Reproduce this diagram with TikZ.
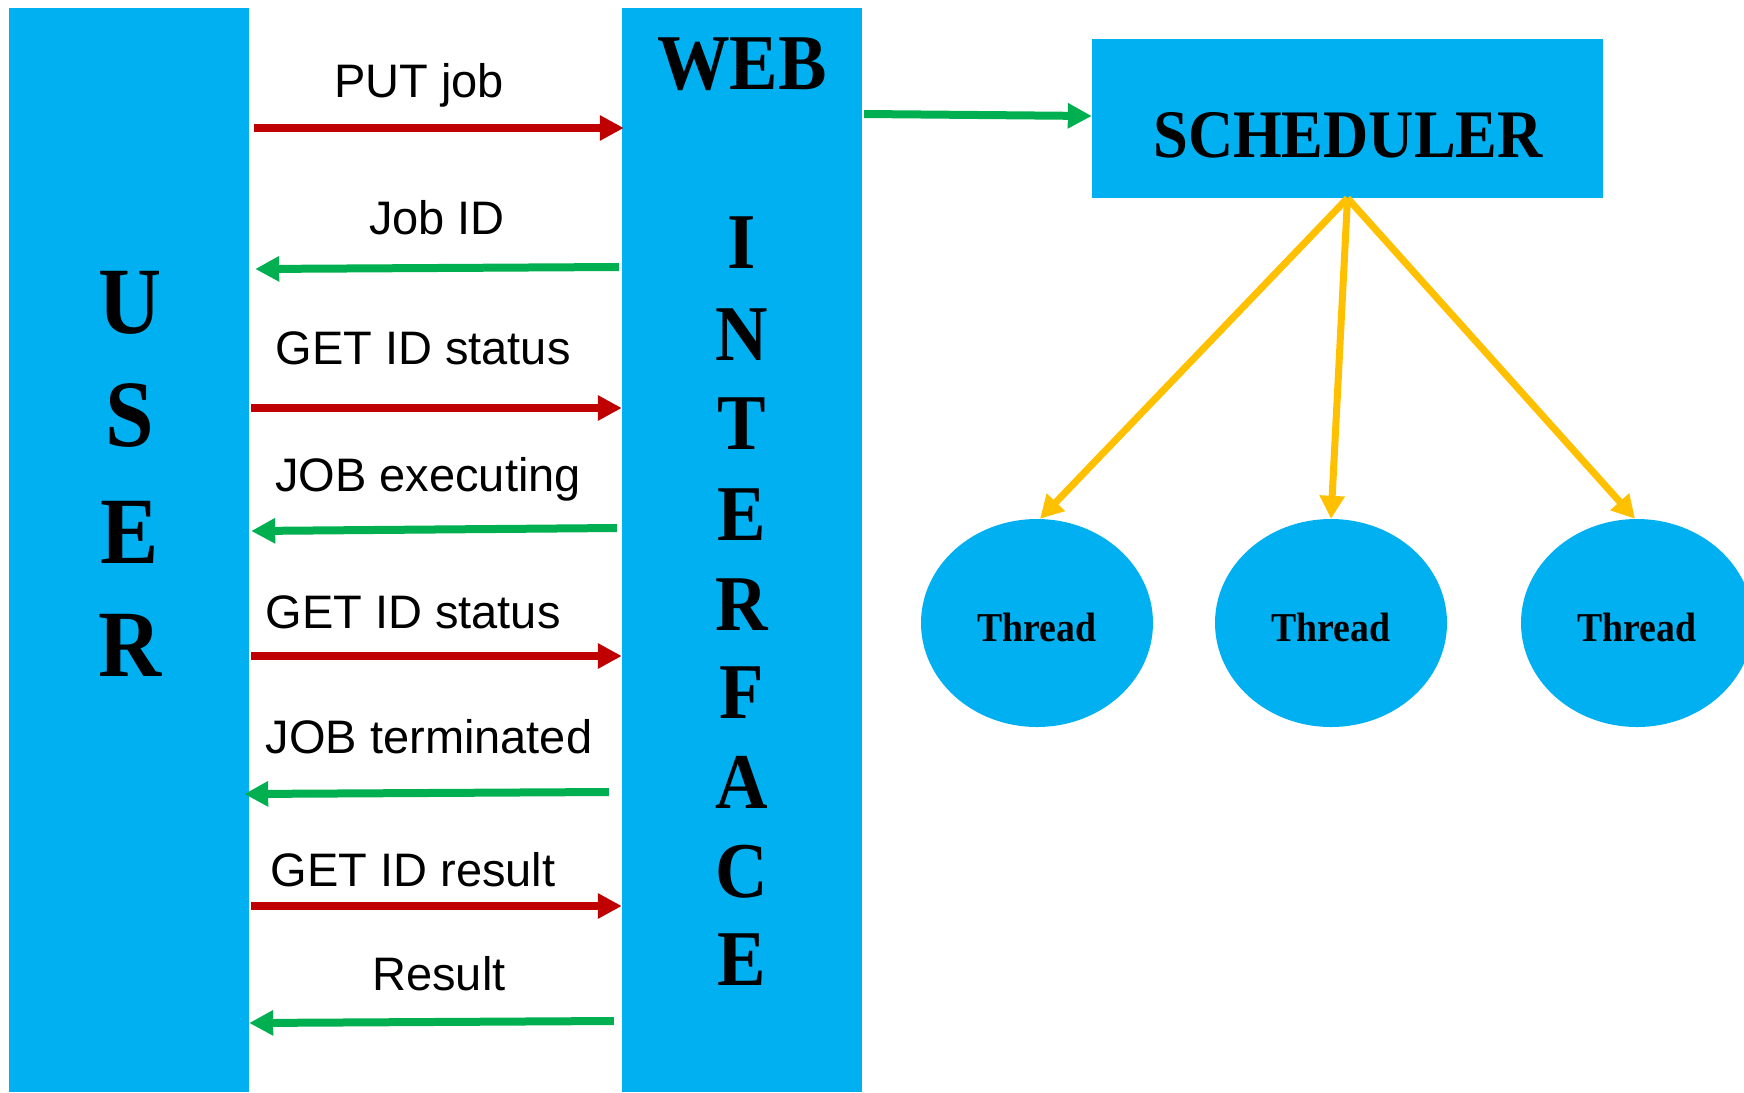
\documentclass[tikz,border=0pt]{standalone}
\usepackage{fontspec}
\setmainfont{Liberation Serif}
\newfontfamily\sansf{Liberation Sans}
\newfontfamily\headf[FakeStretch=0.92]{Liberation Serif}
\usetikzlibrary{arrows.meta,shapes.geometric}
\definecolor{boxblue}{HTML}{00B0F0}
\definecolor{reqred}{HTML}{C00000}
\definecolor{respgreen}{HTML}{00B050}
\definecolor{thryellow}{HTML}{FFC000}
\begin{document}
\begin{tikzpicture}[x=1pt,y=-1pt,
  panel/.style={fill=boxblue, draw=none, rectangle, inner sep=0pt},
  userletter/.style={font=\headf\bfseries\fontsize{95}{95}\selectfont, inner sep=0pt, text height=63pt, text depth=0pt},
  webletter/.style={font=\headf\bfseries\fontsize{79}{79}\selectfont, inner sep=0pt, text height=52pt, text depth=0pt},
  msg/.style={font=\sansf\fontsize{47}{47}\selectfont, inner sep=0pt, text height=34pt, text depth=0pt},
  thread/.style={ellipse, fill=boxblue, draw=none, minimum width=232pt, minimum height=208pt, inner sep=0pt},
  threadtext/.style={font=\headf\bfseries\fontsize{41}{41}\selectfont, inner sep=0pt, text height=28pt, text depth=0pt},
  req/.style={draw=reqred, line width=8pt, -{Triangle[length=24pt,width=24pt]}},
  resp/.style={draw=respgreen, line width=8pt, -{Triangle[length=24pt,width=24pt]}},
  spawn/.style={draw=thryellow, line width=7pt, -{Triangle[length=23pt,width=24pt]}}
]
\useasboundingbox (0,0) rectangle (1744,1092);
\clip (0,0) rectangle (1744,1092);

% panels
\node[panel, minimum width=240pt, minimum height=1084pt] (user) at (129,550) {};
\node[panel, minimum width=240pt, minimum height=1084pt] (web) at (742,550) {};
\node[panel, minimum width=511pt, minimum height=159pt] (sched) at (1347.5,118.5) {};

% USER letters
\node[userletter] (u1) at (130,302) {U};
\node[userletter] (u2) at (130,415) {S};
\node[userletter] (u3) at (130,532) {E};
\node[userletter] (u4) at (130,645) {R};

% WEB INTERFACE letters
\node[webletter] (w0) at (742,63) {WEB};
\node[webletter] (w1) at (742,242) {I};
\node[webletter] (w2) at (742,334) {N};
\node[webletter] (w3) at (742,423) {T};
\node[webletter] (w4) at (742,514) {E};
\node[webletter] (w5) at (742,604) {R};
\node[webletter] (w6) at (742,692) {F};
\node[webletter] (w7) at (742,782) {A};
\node[webletter] (w8) at (742,871) {C};
\node[webletter] (w9) at (742,959) {E};

% scheduler text
\node[font=\headf\bfseries\fontsize{68}{68}\selectfont, inner sep=0pt, text height=45pt, text depth=0pt] (schedtext) at (1348,135) {SCHEDULER};

% threads
\node[thread] (t1) at (1037,623) {};
\node[thread] (t2) at (1331,623) {};
\node[thread] (t3) at (1637,623) {};
\node[threadtext] (t1l) at (1037,627) {Thread};
\node[threadtext] (t2l) at (1331,627) {Thread};
\node[threadtext] (t3l) at (1637,627) {Thread};

% messages labels
\node[msg] (l1) at (419,80) {PUT job};
\node[msg] (l2) at (437,217) {Job ID};
\node[msg] (l3) at (423,347) {GET ID status};
\node[msg] (l4) at (428,474) {JOB executing};
\node[msg] (l5) at (413,611) {GET ID status};
\node[msg] (l6) at (429,736) {JOB terminated};
\node[msg] (l7) at (413,869) {GET ID result};
\node[msg] (l8) at (439,973) {Result};

% message arrows
\draw[req]  ([xshift=5pt]user.east |- 0,128) -- ([xshift=2pt]web.west |- 0,128);
\draw[resp] ([xshift=-3pt]web.west |- 0,267) -- ([xshift=6pt]user.east |- 0,269);
\draw[req]  ([xshift=2pt]user.east |- 0,408) -- (web.west |- 0,408);
\draw[resp] ([xshift=-5pt]web.west |- 0,528) -- ([xshift=2pt]user.east |- 0,531);
\draw[req]  ([xshift=2pt]user.east |- 0,656) -- (web.west |- 0,656);
\draw[resp] ([xshift=-13pt]web.west |- 0,792) -- ([xshift=-5pt]user.east |- 0,794);
\draw[req]  ([xshift=2pt]user.east |- 0,906) -- (web.west |- 0,906);
\draw[resp] ([xshift=-8pt]web.west |- 0,1021) -- (user.east |- 0,1023);

% web -> scheduler
\draw[resp] ([xshift=2pt]web.east |- 0,114) -- (sched.west |- 0,116);

% scheduler -> threads
\draw[spawn] (sched.south) -- ([xshift=3pt]t1.north);
\draw[spawn] (sched.south) -- (t2.north);
\draw[spawn] (sched.south) -- ([xshift=-2pt]t3.north);
\end{tikzpicture}
\end{document}
